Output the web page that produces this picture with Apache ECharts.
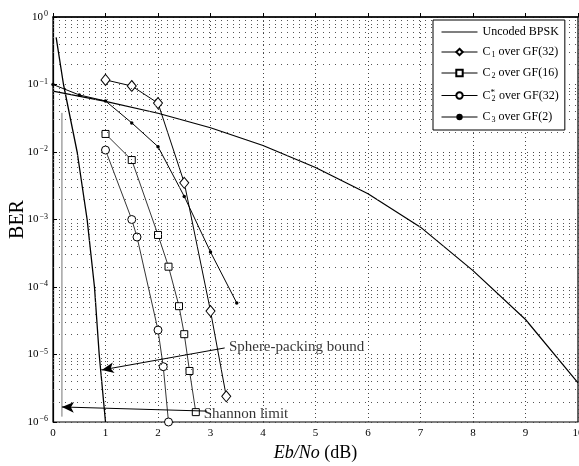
<!DOCTYPE html>
<html>
<head>
<meta charset="utf-8">
<script src="https://cdn.jsdelivr.net/npm/echarts@6/dist/echarts.min.js"></script>
<style>
  html, body { margin: 0; padding: 0; background: #fff; }
  #chart { width: 579px; height: 466px; }
</style>
</head>
<body>
<div id="chart"></div>
<script>
  // curves (Eb/No in dB, BER)
  var bpskX = [0, 1, 2, 3, 4, 5, 6, 7, 8, 9, 10]
  var bpskY = [0.08, 0.0563, 0.0375, 0.0229, 0.0125, 0.0059, 0.0024, 7.7e-4, 1.75e-4, 3.3e-5, 3.8e-6]

  var c1X = [1.0, 1.5, 2.0, 2.5, 3.0, 3.3]
  var c1Y = [0.117, 0.095, 0.053, 0.0035, 4.4e-5, 2.4e-6]

  var c2X = [1.0, 1.5, 2.0, 2.2, 2.4, 2.5, 2.6, 2.72]
  var c2Y = [0.0185, 0.0076, 5.9e-4, 2.0e-4, 5.2e-5, 2.0e-5, 5.7e-6, 1.4e-6]

  var c2sX = [1.0, 1.5, 1.6, 2.0, 2.1, 2.2]
  var c2sY = [0.0107, 1.0e-3, 5.5e-4, 2.3e-5, 6.6e-6, 1.0e-6]

  var c3X = [0, 0.5, 1.0, 1.5, 2.0, 2.5, 3.0, 3.5]
  var c3Y = [0.1, 0.07, 0.057, 0.027, 0.012, 0.0022, 3.3e-4, 5.8e-5]

  var sphereX = [0.06, 0.2, 0.46, 0.65, 0.79, 0.88, 1.0]
  var sphereY = [0.5, 0.1, 0.01, 1e-3, 1e-4, 1e-5, 1e-6]

  var shannonX = [0.17, 0.17]
  var shannonY = [0.038, 1.2e-6]

  var decades = [-6, -5, -4, -3, -2, -1, 0]

  var legendText = {
    'Uncoded BPSK': 'Uncoded BPSK',
    'C1 over GF(32)': 'C{sub|1} over GF(32)',
    'C2 over GF(16)': 'C{sub|2} over GF(16)',
    'C2* over GF(32)': 'C{sub|2}{sup|*}over GF(32)',
    'C3 over GF(2)': 'C{sub|3} over GF(2)'
  }

  function zip (xs, ys) {
    return xs.map(function (x, i) { return [x, ys[i]] })
  }

  // minor log grid lines 2..9 x 10^k, placed on a hidden exponent axis
  var minorLines = []
  decades.slice(0, -1).forEach(function (d) {
    for (var m = 2; m <= 9; m++) {
      minorLines.push({ yAxis: Math.log10(m * Math.pow(10, d)) })
    }
  })

  var serif = 'Liberation Serif'
  var black = '#000'
  var dots = [1, 5]

  var chart = echarts.init(document.getElementById('chart'))
  chart.setOption({
    animation: false,
    textStyle: { fontFamily: serif, color: black },
    grid: {
      left: 53, right: 1, top: 17, bottom: 44,
      outerBoundsMode: 'none',
      containLabel: false,
      show: true, borderColor: black, borderWidth: 1.2
    },
    legend: {
      data: [
        { name: 'Uncoded BPSK', icon: 'path://M0,0L40,0L40,1L0,1Z' },
        'C1 over GF(32)', 'C2 over GF(16)', 'C2* over GF(32)', 'C3 over GF(2)'
      ],
      z: 20,
      left: 433, top: 20,
      width: 140,
      orient: 'vertical',
      itemWidth: 36, itemHeight: 8, itemGap: 8,
      padding: [6, 6, 6, 8],
      backgroundColor: '#fff',
      borderColor: black, borderWidth: 1,
      borderRadius: 0,
      lineStyle: { width: 1 },
      formatter: function (name) { return legendText[name] },
      textStyle: {
        fontFamily: serif, fontSize: 12, color: black,
        rich: {
          sub: { fontSize: 8, verticalAlign: 'bottom', padding: [6, 0, 0, 1], fontFamily: serif },
          sup: { fontSize: 9, verticalAlign: 'top', padding: [0, 4, 6, -5], fontFamily: serif }
        }
      }
    },
    xAxis: {
      type: 'value', min: 0, max: 10, interval: 1,
      name: '{i|Eb/No} (dB)',
      nameLocation: 'middle', nameGap: 22,
      nameMoveOverlap: false,
      nameTextStyle: {
        fontFamily: serif, fontSize: 18, color: black,
        rich: { i: { fontFamily: serif, fontStyle: 'italic', fontSize: 18 } }
      },
      axisLine: { lineStyle: { color: black, width: 1.5 } },
      axisTick: { inside: true, length: 4, lineStyle: { color: black } },
      axisLabel: { fontFamily: serif, fontSize: 11, color: black, margin: 6 },
      splitLine: { show: true, lineStyle: { color: '#444', type: [1, 3] } }
    },
    yAxis: [
      {
        type: 'log', logBase: 10, min: 1e-6, max: 1, interval: 1,
        name: 'BER',
        nameLocation: 'middle', nameGap: 25,
        nameMoveOverlap: false,
        nameTextStyle: { fontFamily: serif, fontSize: 20, color: black },
        axisLine: { show: true, lineStyle: { color: black, width: 1.2 } },
        axisTick: { inside: true, length: 4, lineStyle: { color: black } },
        axisLabel: {
          margin: 5,
          formatter: function (v) {
            var e = Math.round(Math.log10(v))
            return '{b|10}{e|' + (e < 0 ? '\u2212' + (-e) : e) + '}'
          },
          rich: {
            b: { fontFamily: serif, fontSize: 11, color: black },
            e: { fontFamily: serif, fontSize: 8, color: black, verticalAlign: 'top', padding: [0, 0, 6, 1] }
          }
        },
        splitLine: { show: true, lineStyle: { color: '#444', type: dots } }
      },
      {
        // hidden exponent axis, only used to place the minor grid lines
        type: 'value', min: -6, max: 0, show: false,
        splitLine: { show: false }
      }
    ],
    series: [
      {
        name: 'Uncoded BPSK', type: 'line',
        data: zip(bpskX, bpskY),
        showSymbol: false, symbol: 'none',
        lineStyle: { color: black, width: 1.2 },
        itemStyle: { color: black },
        z: 3
      },
      {
        name: 'minor grid', type: 'line', yAxisIndex: 1,
        data: [],
        markLine: {
          silent: true, symbol: 'none',
          label: { show: false },
          lineStyle: { color: '#555', type: dots, width: 1 },
          data: minorLines
        },
        z: 1
      },
      {
        name: 'C1 over GF(32)', type: 'line',
        data: zip(c1X, c1Y),
        symbol: 'diamond', symbolSize: [9, 11],
        lineStyle: { color: black, width: 1 },
        itemStyle: { color: '#fff', borderColor: black, borderWidth: 1 },
        z: 4
      },
      {
        name: 'C2 over GF(16)', type: 'line',
        data: zip(c2X, c2Y),
        symbol: 'rect', symbolSize: 7,
        lineStyle: { color: black, width: 0.8 },
        itemStyle: { color: '#fff', borderColor: black, borderWidth: 1 },
        z: 4
      },
      {
        name: 'C2* over GF(32)', type: 'line',
        data: zip(c2sX, c2sY),
        symbol: 'circle', symbolSize: 8,
        lineStyle: { color: black, width: 0.8 },
        itemStyle: { color: '#fff', borderColor: black, borderWidth: 1 },
        z: 4
      },
      {
        name: 'C3 over GF(2)', type: 'line',
        data: zip(c3X, c3Y),
        symbol: 'circle', symbolSize: 3.5,
        lineStyle: { color: black, width: 1 },
        itemStyle: { color: black },
        z: 4
      },
      {
        name: 'sphere', type: 'line',
        data: zip(sphereX, sphereY),
        symbol: 'none',
        lineStyle: { color: black, width: 1.3 },
        markLine: {
          silent: true,
          symbol: ['none', 'arrow'], symbolSize: [8, 12],
          lineStyle: { color: black, width: 1, type: 'solid' },
          label: { show: false },
          data: [
            [{ coord: [3.27, 1.25e-5] }, { coord: [0.93, 5.9e-6] }],
            [{ coord: [2.93, 1.45e-6] }, { coord: [0.17, 1.67e-6] }]
          ]
        },
        z: 3
      },
      {
        name: 'shannon', type: 'line',
        data: zip(shannonX, shannonY),
        symbol: 'none',
        lineStyle: { color: '#777', width: 1 },
        z: 3
      },
      {
        name: 'notes', type: 'scatter',
        symbolSize: 0,
        data: [
          { value: [3.35, 1.3e-5], label: { formatter: 'Sphere-packing bound' } },
          { value: [2.87, 1.3e-6], label: { formatter: 'Shannon limit' } }
        ],
        label: {
          show: true, position: 'right', distance: 0,
          fontFamily: serif, fontSize: 15, color: black
        },
        z: 5
      }
    ]
  })
</script>
</body>
</html>
